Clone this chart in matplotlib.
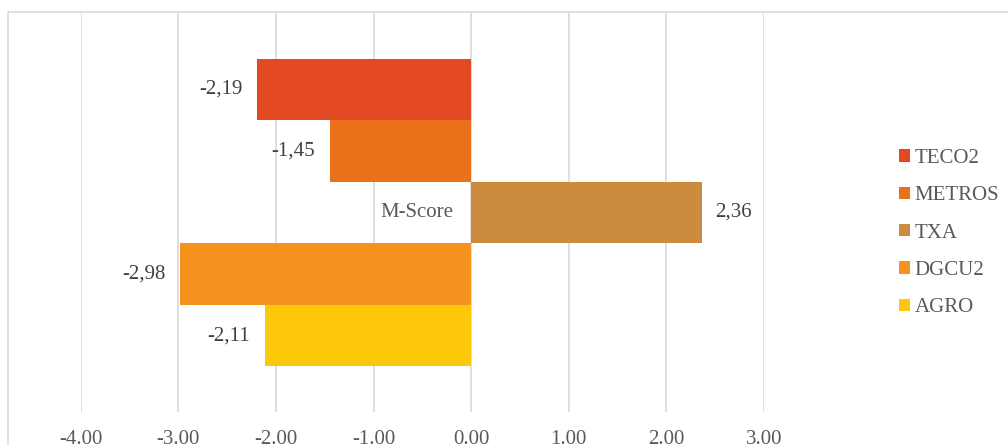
import numpy as np
import matplotlib.pyplot as plt
from matplotlib.patches import Rectangle

plt.rcParams['font.family'] = ['Liberation Serif', 'DejaVu Serif']

# data
category = 'M-Score'
series = ['TECO2', 'METROS', 'TXA', 'DGCU2', 'AGRO']
values = [-2.19, -1.45, 2.36, -2.98, -2.11]
colors = ['#E34A24', '#E97119', '#CD8B3F', '#F6921E', '#FDC70A']
xticks = [-4, -3, -2, -1, 0, 1, 2, 3]

fs = 15

fig = plt.figure(figsize=(10.08, 4.45), dpi=100)
# chart area border (cropped on right/bottom)
fig.patches.append(Rectangle((8 / 1008, -0.1), 1.2, 1 - 12 / 445 + 0.1,
                             transform=fig.transFigure, fill=False,
                             edgecolor='#D9D9D9', linewidth=1.2))

ax = fig.add_axes([80.7 / 1008, 33 / 445, (764 - 80.7) / 1008, (445 - 13 - 33) / 445])

barh = 0.179
n = len(series)
pos = [(n - 1) / 2 * barh - i * barh for i in range(n)]
for p, v, c, s in zip(pos, values, colors, series):
    ax.barh(p, v, height=barh, color=c, label=s, zorder=3)
    off = 14 if v > 0 else -15
    ax.annotate(f'{v:.2f}'.replace('.', ','), (v, p), xytext=(off, 0),
                textcoords='offset pixels',
                ha='left' if v > 0 else 'right', va='center',
                fontsize=fs, color='#404040')

ax.annotate(category, (0, 0), xytext=(-18, 0), textcoords='offset pixels',
            ha='right', va='center', fontsize=fs, color='#595959')

ax.set_xlim(-4, 3)
ax.set_ylim(-0.58, 0.58)
ax.set_xticks(xticks)
ax.set_xticklabels([f'{t:.2f}' for t in xticks], fontsize=fs, color='#595959')
ax.set_yticks([])
ax.tick_params(axis='x', length=0, pad=13)
ax.grid(axis='x', color='#D9D9D9', linewidth=1.2, zorder=0)
for sp in ax.spines.values():
    sp.set_visible(False)

ax.legend(loc='center left', bbox_to_anchor=(880 / 1008, 1 - 233 / 445), bbox_transform=fig.transFigure,
          frameon=False, fontsize=fs, handlelength=0.55, handleheight=0.55,
          handletextpad=0.2, labelspacing=0.88, labelcolor='#595959')

plt.savefig('out.png', dpi=100)
